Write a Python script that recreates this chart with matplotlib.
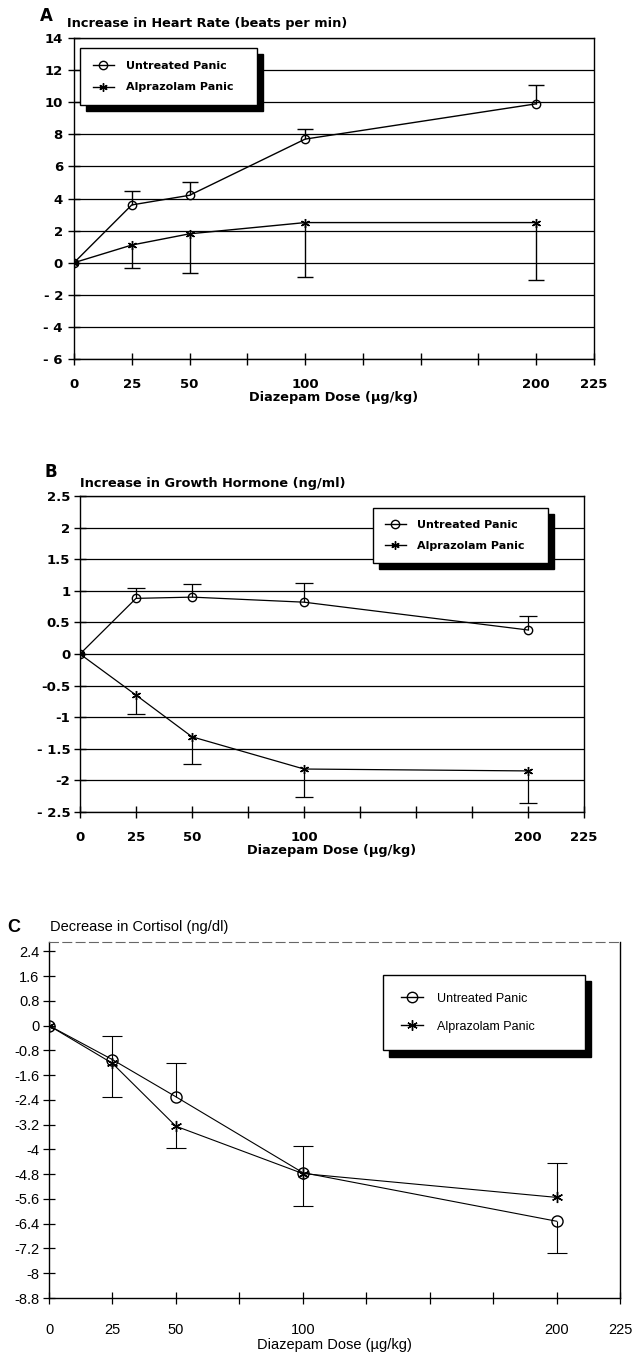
import numpy as np
import matplotlib
matplotlib.use('Agg')
import matplotlib.pyplot as plt
from matplotlib.lines import Line2D

# doses and panel data
dose = [0, 25, 50, 100, 200]
nan = float('nan')

hr_untreated = [0, 3.6, 4.2, 7.7, 9.9]
hr_untreated_bar = [nan, 4.45, 5.0, 8.35, 11.05]
hr_alprazolam = [0, 1.1, 1.8, 2.5, 2.5]
hr_alprazolam_bar = [nan, -0.35, -0.65, -0.9, -1.1]

gh_untreated = [0, 0.88, 0.9, 0.82, 0.38]
gh_untreated_bar = [nan, 1.04, 1.11, 1.13, 0.6]
gh_alprazolam = [0, -0.65, -1.31, -1.82, -1.85]
gh_alprazolam_bar = [nan, -0.95, -1.74, -2.26, -2.36]

cort_untreated = [0, -1.1, -2.3, -4.75, -6.32]
cort_untreated_bar = [nan, -0.35, -1.2, -3.9, -7.35]
cort_alprazolam = [0, -1.22, -3.25, -4.78, -5.55]
cort_alprazolam_bar = [nan, -2.3, -3.97, -5.84, -4.45]

xticks = [0, 25, 50, 75, 100, 125, 150, 175, 200, 225]
xtick_labels = ['0', '25', '50', '', '100', '', '', '', '200', '225']

hr_ticks = [14, 12, 10, 8, 6, 4, 2, 0, -2, -4, -6]
hr_labels = ['14', '12', '10', '8', '6', '4', '2', '0', '- 2', '- 4', '- 6']
gh_ticks = [2.5, 2, 1.5, 1, 0.5, 0, -0.5, -1, -1.5, -2, -2.5]
gh_labels = ['2.5', '2', '1.5', '1', '0.5', '0', '-0.5', '-1', '- 1.5', '-2', '- 2.5']
cort_ticks = [2.4, 1.6, 0.8, 0, -0.8, -1.6, -2.4, -3.2, -4, -4.8, -5.6, -6.4, -7.2, -8, -8.8]
cort_labels = ['2.4', '1.6', '0.8', '0', '-0.8', '-1.6', '-2.4', '-3.2', '-4', '-4.8',
               '-5.6', '-6.4', '-7.2', '-8', '-8.8']

W, H = 636, 1352
fig = plt.figure(figsize=(W / 100, H / 100), dpi=100)

STAR = (6, 2, 0)


def px_axes(l, t, r, b):
    return fig.add_axes([l / W, 1 - b / H, (r - l) / W, (b - t) / H])


def draw_series(ax, x, y, bar, marker, ms, lw, capw):
    face = 'none' if marker == 'o' else 'black'
    ax.plot(x, y, color='black', lw=lw, marker=marker, ms=ms, mfc=face,
            mec='black', mew=1.0, zorder=4)
    xb = [xi for xi, b in zip(x, bar) if not np.isnan(b)]
    yb = [yi for yi, b in zip(y, bar) if not np.isnan(b)]
    bb = [b for b in bar if not np.isnan(b)]
    ax.vlines(xb, yb, bb, color='black', lw=lw, zorder=3)
    ax.plot(xb, bb, ls='none', marker='_', ms=capw, mec='black', mew=lw, zorder=3)


def add_legend(ax, box, ms, fontprops, pad, hlen, tpad, lspace):
    l, t, r, b = box
    handles = [
        Line2D([], [], color='black', lw=1, marker='o', ms=ms, mfc='none', mec='black'),
        Line2D([], [], color='black', lw=1, marker=STAR, ms=ms, mec='black'),
    ]
    leg = ax.legend(handles, ['Untreated Panic', 'Alprazolam Panic'],
                    loc='upper left', mode='expand',
                    bbox_to_anchor=(l / W, 1 - b / H, (r - l) / W, (b - t) / H),
                    bbox_transform=fig.transFigure, borderaxespad=0,
                    fancybox=False, framealpha=1, edgecolor='black',
                    prop=fontprops, borderpad=pad, handlelength=hlen,
                    handletextpad=tpad, labelspacing=lspace,
                    shadow={'ox': 4.5, 'oy': -4.5, 'color': 'black', 'alpha': 1})
    leg.get_frame().set_linewidth(1.0)
    leg.set_zorder(10)
    return leg


bold = {'family': 'DejaVu Sans', 'weight': 'bold', 'size': 9.5}
title_bold = {'family': 'DejaVu Sans', 'weight': 'bold', 'size': 9.3}
leg_bold = {'family': 'DejaVu Sans', 'weight': 'bold', 'size': 8}

# ---------------- Panel A ----------------
axA = px_axes(74, 38, 594, 359)
axA.set_xlim(0, 225)
axA.set_ylim(-6, 14)
axA.yaxis.grid(True, color='black', lw=0.9)
axA.set_axisbelow(True)
draw_series(axA, dose, hr_untreated, hr_untreated_bar, 'o', 6, 1.0, 12)
draw_series(axA, dose, hr_alprazolam, hr_alprazolam_bar, STAR, 6.5, 1.0, 12)
axA.set_xticks(xticks)
axA.set_xticklabels(xtick_labels, fontdict=bold)
axA.set_yticks(hr_ticks)
axA.set_yticklabels(hr_labels, fontdict=bold)
axA.tick_params(axis='both', direction='inout', length=8, width=1, color='black')
axA.tick_params(axis='y', pad=4)
axA.tick_params(axis='x', pad=10)
axA.set_xlabel('Diazepam Dose (\u00b5g/kg)', fontdict=title_bold, labelpad=0)
for s in axA.spines.values():
    s.set_linewidth(1.0)
fig.text(46 / W, 1 - 16 / H, 'A', ha='center', va='center',
         family='DejaVu Sans', weight='bold', size=12)
fig.text(67 / W, 1 - 24 / H, 'Increase in Heart Rate (beats per min)', ha='left',
         va='center', **title_bold)
add_legend(axA, (80, 48, 257, 106), 6, leg_bold, 1.15, 1.9, 1.05, 1.05)

# ---------------- Panel B ----------------
axB = px_axes(80, 496, 584, 812)
axB.set_xlim(0, 225)
axB.set_ylim(-2.5, 2.5)
axB.yaxis.grid(True, color='black', lw=0.9)
axB.set_axisbelow(True)
draw_series(axB, dose, gh_untreated, gh_untreated_bar, 'o', 6, 0.9, 13)
draw_series(axB, dose, gh_alprazolam, gh_alprazolam_bar, STAR, 6.5, 0.9, 13)
axB.set_xticks(xticks)
axB.set_xticklabels(xtick_labels, fontdict=bold)
axB.set_yticks(gh_ticks)
axB.set_yticklabels(gh_labels, fontdict=bold)
axB.tick_params(axis='both', direction='inout', length=8, width=1, color='black')
axB.tick_params(axis='y', pad=3)
axB.tick_params(axis='x', pad=10)
axB.set_xlabel('Diazepam Dose (\u00b5g/kg)', fontdict=title_bold, labelpad=0)
for s in axB.spines.values():
    s.set_linewidth(1.0)
fig.text(51 / W, 1 - 472 / H, 'B', ha='center', va='center',
         family='DejaVu Sans', weight='bold', size=12)
fig.text(80 / W, 1 - 484 / H, 'Increase in Growth Hormone (ng/ml)', ha='left',
         va='center', **title_bold)
add_legend(axB, (373, 508, 548, 565), 6, leg_bold, 1.05, 1.9, 1.05, 1.05)

# ---------------- Panel C ----------------
reg = {'family': 'Liberation Sans', 'size': 10.5}
leg_reg = {'family': 'Liberation Sans', 'size': 9}
axC = px_axes(49, 942, 620, 1298)
axC.set_xlim(0, 225)
axC.set_ylim(-8.8, 2.7)
draw_series(axC, dose, cort_untreated, cort_untreated_bar, 'o', 8, 0.8, 15)
draw_series(axC, dose, cort_alprazolam, cort_alprazolam_bar, STAR, 8, 0.8, 15)
axC.set_xticks(xticks)
axC.set_xticklabels(xtick_labels, fontdict=reg)
axC.set_yticks(cort_ticks)
axC.set_yticklabels(cort_labels, fontdict=reg)
axC.tick_params(axis='both', direction='inout', length=8, width=0.9, color='black')
axC.tick_params(axis='y', pad=3)
axC.tick_params(axis='x', pad=14)
axC.set_xlabel('Diazepam Dose (\u00b5g/kg)', fontdict=reg, labelpad=1)
axC.spines['top'].set_color('#666666')
axC.spines['top'].set_linestyle((0, (8, 4)))
axC.spines['top'].set_linewidth(0.8)
for side in ['left', 'bottom', 'right']:
    axC.spines[side].set_linewidth(1.0)
fig.text(14 / W, 1 - 927 / H, 'C', ha='center', va='center',
         family='Liberation Sans', weight='bold', size=13)
fig.text(50 / W, 1 - 927 / H, 'Decrease in Cortisol (ng/dl)', ha='left',
         va='center', family='Liberation Sans', size=10.5)
add_legend(axC, (383, 975, 585, 1053), 7.5, leg_reg, 1.4, 1.8, 1.1, 1.3)

fig.savefig('out.png', dpi=100)
